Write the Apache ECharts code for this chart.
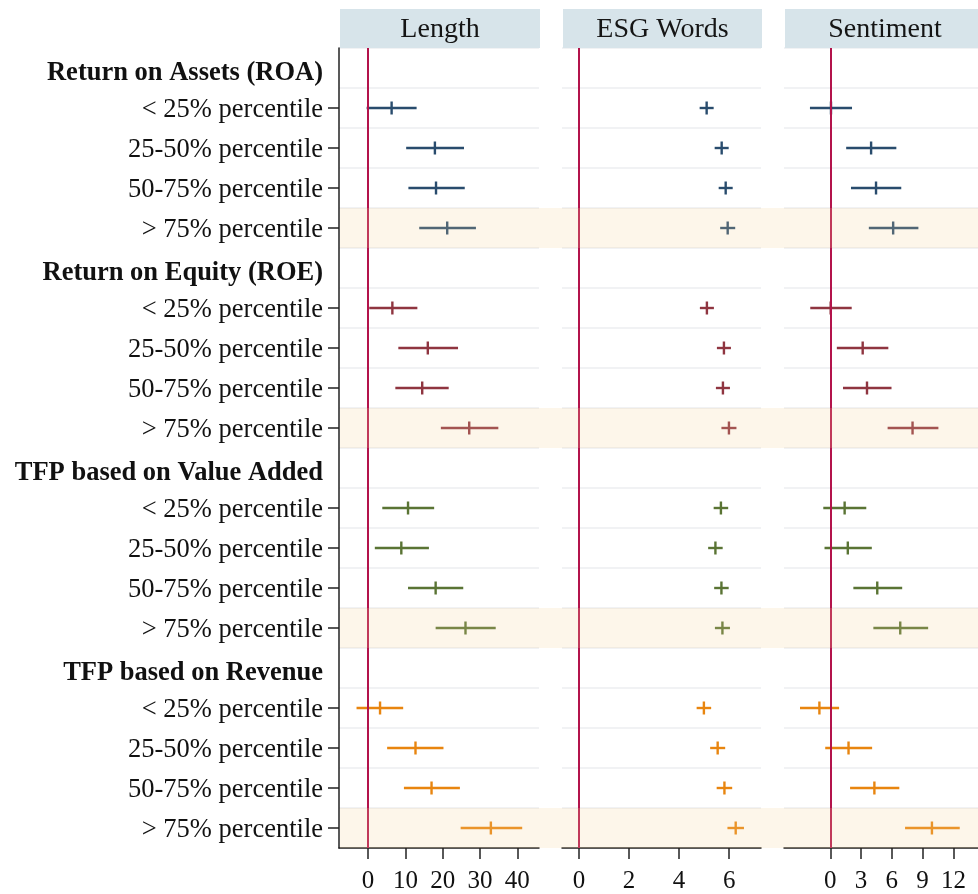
<!DOCTYPE html>
<html>
<head>
<meta charset="utf-8">
<script src="https://cdn.jsdelivr.net/npm/echarts@6/dist/echarts.min.js"></script>
<style>
  html, body { margin: 0; padding: 0; background: #ffffff; }
  #chart { width: 978px; height: 894px; }
</style>
</head>
<body>
<div id="chart"></div>
<script>
// Groups of firms and the quartile bins inside each group
const groups = ['Return on Assets (ROA)', 'Return on Equity (ROE)', 'TFP based on Value Added', 'TFP based on Revenue'];
const levels = ['< 25% percentile', '25-50% percentile', '50-75% percentile', '> 75% percentile'];
const groupColors = ['#294c6d', '#8f3540', '#5a7434', '#e8850f'];

// Panel titles and tick labels
const panelTitles = ['Length', 'ESG Words', 'Sentiment'];
const lengthTicks = [0, 10, 20, 30, 40];
const esgTicks = [0, 2, 4, 6];
const sentTicks = [0, 3, 6, 9, 12];

// Point estimates and confidence bounds, ordered ROA, ROE, TFP-VA, TFP-Rev; 4 bins each
const lengthEst = [6.3, 17.9, 18.2, 21.2, 6.5, 16.0, 14.5, 27.1, 10.7, 8.9, 18.1, 26.1, 3.2, 12.7, 17.0, 32.9];
const lengthLo  = [-0.4, 10.2, 10.8, 13.7, 0.3, 8.1, 7.3, 19.5, 3.8, 1.8, 10.7, 18.1, -3.1, 5.1, 9.6, 24.8];
const lengthHi  = [13.0, 25.7, 25.9, 28.9, 13.2, 24.1, 21.6, 34.9, 17.7, 16.3, 25.5, 34.2, 9.4, 20.2, 24.6, 41.3];

const esgEst = [5.10, 5.70, 5.86, 5.94, 5.11, 5.79, 5.75, 5.99, 5.67, 5.45, 5.69, 5.73, 4.99, 5.54, 5.81, 6.26];
const esgLo  = [4.82, 5.42, 5.58, 5.64, 4.83, 5.51, 5.47, 5.69, 5.38, 5.16, 5.40, 5.43, 4.70, 5.24, 5.50, 5.93];
const esgHi  = [5.38, 5.98, 6.14, 6.24, 5.39, 6.07, 6.03, 6.29, 5.96, 5.74, 5.98, 6.03, 5.28, 5.84, 6.12, 6.59];

const sentEst = [0.07, 3.98, 4.46, 6.13, 0.04, 3.16, 3.58, 8.02, 1.40, 1.71, 4.58, 6.82, -1.06, 1.78, 4.30, 9.91];
const sentLo  = [-1.98, 1.55, 2.02, 3.76, -1.95, 0.64, 1.24, 5.59, -0.68, -0.56, 2.25, 4.20, -2.95, -0.49, 1.93, 7.29];
const sentHi  = [2.12, 6.44, 6.92, 8.59, 2.09, 5.66, 5.97, 10.54, 3.51, 4.05, 7.01, 9.54, 0.86, 4.08, 6.73, 12.62];

// Layout
const FONT = '"Liberation Serif", "Times New Roman", serif';
const PLOT_TOP = 48;
const PLOT_H = 803;
const HEADER_TOP = 9;
const HEADER_H = 39;
const panels = [
  { left: 339, width: 200, min: -7.8, max: 45.8, ticks: lengthTicks, est: lengthEst, lo: lengthLo, hi: lengthHi },
  { left: 562, width: 199, min: -0.675, max: 7.27, ticks: esgTicks, est: esgEst, lo: esgLo, hi: esgHi },
  { left: 784, width: 200, min: -4.51, max: 14.4, ticks: sentTicks, est: sentEst, lo: sentLo, hi: sentHi }
];

// Row list: group heading followed by its four bins
const rows = [];
const isHeading = [];
groups.forEach(g => {
  rows.push(g); isHeading.push(true);
  levels.forEach(l => { rows.push(l); isHeading.push(false); });
});
const rowOf = (g, l) => g * (levels.length + 1) + 1 + l;

const chart = echarts.init(document.getElementById('chart'), null, { renderer: 'canvas' });

function renderCI(params, api) {
  const row = api.value(1);
  const pEst = api.coord([api.value(0), row]);
  const pLo = api.coord([api.value(2), row]);
  const pHi = api.coord([api.value(3), row]);
  const color = groupColors[api.value(4)];
  return {
    type: 'group',
    children: [
      { type: 'line', shape: { x1: pLo[0], y1: pLo[1], x2: pHi[0], y2: pHi[1] },
        style: { stroke: color, lineWidth: 2.4 } },
      { type: 'line', shape: { x1: pEst[0], y1: pEst[1] - 6.5, x2: pEst[0], y2: pEst[1] + 6.5 },
        style: { stroke: color, lineWidth: 2.4 } }
    ]
  };
}

const grids = [], xAxes = [], yAxes = [], series = [];
panels.forEach((p, i) => {
  grids.push({ left: p.left, width: p.width, top: PLOT_TOP, height: PLOT_H, containLabel: false });
  xAxes.push({
    type: 'value', gridIndex: i, min: p.min, max: p.max,
    axisLine: { show: true, onZero: false, lineStyle: { color: '#222', width: 1.5 } },
    axisTick: { show: true, customValues: p.ticks, length: 11, lineStyle: { color: '#222', width: 1.5 } },
    axisLabel: { show: true, customValues: p.ticks, fontFamily: FONT, fontSize: 25, color: '#111', margin: 21 },
    splitLine: { show: false }
  });
  yAxes.push({
    type: 'category', gridIndex: i, inverse: true, boundaryGap: true,
    data: rows,
    axisLine: { show: i === 0, onZero: false, lineStyle: { color: '#222', width: 1.5 } },
    axisTick: { show: i === 0, alignWithLabel: true, length: 11,
      interval: (idx) => !isHeading[idx], lineStyle: { color: '#222', width: 1.5 } },
    axisLabel: {
      show: i === 0, interval: 0, margin: 16,
      formatter: (value, idx) => (isHeading[idx] ? '{h|' : '{n|') + value + '}',
      rich: {
        h: { fontFamily: FONT, fontSize: 26.5, fontWeight: 'bold', color: '#111', padding: [11, 0, 0, 0] },
        n: { fontFamily: FONT, fontSize: 26.5, color: '#111', padding: [4, 0, 0, 0] }
      }
    },
    splitLine: { show: true, interval: 0, lineStyle: { color: '#eceef1', width: 1.5 } }
  });
  const data = [];
  groups.forEach((g, gi) => {
    levels.forEach((l, li) => {
      const k = gi * levels.length + li;
      data.push([p.est[k], rowOf(gi, li), p.lo[k], p.hi[k], gi]);
    });
  });
  series.push({
    type: 'custom', xAxisIndex: i, yAxisIndex: i,
    renderItem: renderCI,
    encode: { x: 0, y: 1 },
    data: data,
    silent: true,
    animation: false,
    markLine: {
      silent: true, symbol: ['none', 'none'], animation: false,
      label: { show: false },
      lineStyle: { color: '#b3134b', width: 2, type: 'solid' },
      data: [{ xAxis: 0 }]
    }
  });
});

chart.setOption({
  backgroundColor: '#ffffff',
  animation: false,
  grid: grids,
  xAxis: xAxes,
  yAxis: yAxes,
  series: series
});

// Panel title strips and highlighted top-quartile rows
const graphics = [];
panels.forEach((p, i) => {
  graphics.push({
    type: 'rect', z: 10,
    shape: { x: p.left + 1, y: HEADER_TOP, width: p.width, height: HEADER_H },
    style: { fill: '#d7e4ea' }
  });
  graphics.push({
    type: 'text', z: 11,
    x: p.left + 1 + p.width / 2, y: HEADER_TOP + HEADER_H / 2 + 1,
    style: { text: panelTitles[i], fontFamily: FONT, fontSize: 28, fill: '#151515',
      align: 'center', verticalAlign: 'middle' }
  });
});
const rowH = PLOT_H / rows.length;
groups.forEach((g, gi) => {
  const r = rowOf(gi, levels.length - 1);
  const yc = chart.convertToPixel({ yAxisIndex: 0 }, r);
  graphics.push({
    type: 'rect', z: 50, silent: true,
    shape: { x: panels[0].left + 1, y: yc - rowH / 2, width: 978 - panels[0].left, height: rowH },
    style: { fill: 'rgba(245,212,150,0.2)' }
  });
});
chart.setOption({ graphic: graphics });
</script>
</body>
</html>
